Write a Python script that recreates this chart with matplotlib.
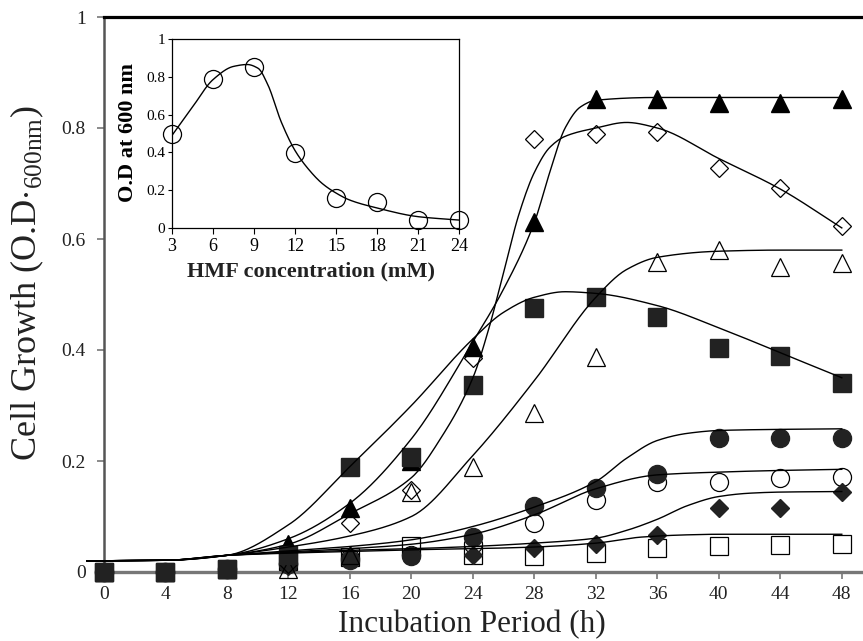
import numpy as np
import matplotlib
matplotlib.use("Agg")
import matplotlib.pyplot as plt

plt.rcParams['font.family'] = ['Liberation Serif', 'DejaVu Serif']
plt.rcParams['mathtext.fontset'] = 'custom'
plt.rcParams['mathtext.rm'] = 'Liberation Serif'

# ---- main chart data (incubation time, h) ----
hours = [0, 4, 8, 12, 16, 20, 24, 28, 32, 36, 40, 44, 48]
tri_f = [0, 0, 0.005, 0.05, 0.115, 0.20, 0.405, 0.63, 0.853, 0.853, 0.845, 0.845, 0.853]
dia_o = [0, 0, 0.005, 0.015, 0.088, 0.148, 0.385, 0.78, 0.79, 0.793, 0.728, 0.692, 0.623]
tri_o = [0, 0, 0.005, 0.005, 0.03, 0.145, 0.19, 0.286, 0.388, 0.559, 0.58, 0.55, 0.556]
sq_f = [0, 0, 0.005, 0.03, 0.19, 0.208, 0.337, 0.476, 0.496, 0.459, 0.404, 0.39, 0.34]
circ_f = [0, 0, 0.005, 0.015, 0.022, 0.028, 0.063, 0.119, 0.151, 0.177, 0.241, 0.241, 0.241]
circ_o = [0, 0, 0.005, 0.015, 0.025, 0.03, 0.05, 0.088, 0.13, 0.163, 0.163, 0.169, 0.172]
dia_f = [0, 0, 0.005, 0.01, 0.025, 0.03, 0.031, 0.043, 0.05, 0.067, 0.115, 0.115, 0.145]
sq_o = [0, 0, 0.005, 0.02, 0.027, 0.047, 0.031, 0.028, 0.034, 0.043, 0.047, 0.048, 0.05]

# trend curves (knots)
fit_sq_x = [-1.1, 4, 8, 12, 16, 20, 24, 26, 28, 30, 32, 36, 40, 44, 48]
fit_sq_y = [0.02, 0.021, 0.03, 0.085, 0.19, 0.30, 0.42, 0.468, 0.495, 0.505, 0.502, 0.48, 0.44, 0.395, 0.35]
fit_tri_x = [-1.1, 4, 8, 12, 16, 20, 24, 26, 28, 29, 30, 31, 32, 36, 40, 48]
fit_tri_y = [0.02, 0.021, 0.03, 0.06, 0.124, 0.24, 0.415, 0.51, 0.63, 0.72, 0.80, 0.838, 0.85, 0.855, 0.855, 0.855]
fit_dia_x = [-1.1, 4, 8, 12, 16, 20, 22, 24, 25, 26, 27, 28, 29, 30, 32, 34, 36, 40, 44, 48]
fit_dia_y = [0.02, 0.021, 0.03, 0.05, 0.105, 0.17, 0.245, 0.35, 0.435, 0.54, 0.645, 0.72, 0.765, 0.785, 0.80, 0.81, 0.80, 0.745, 0.69, 0.62]
fit_otri_x = [-1.1, 4, 8, 12, 16, 20, 24, 28, 32, 34, 36, 40, 44, 48]
fit_otri_y = [0.02, 0.021, 0.03, 0.045, 0.065, 0.10, 0.21, 0.345, 0.495, 0.545, 0.567, 0.578, 0.58, 0.58]
fit_fc_x = [-1.1, 4, 8, 12, 16, 20, 24, 28, 32, 34, 36, 38, 40, 44, 48]
fit_fc_y = [0.02, 0.021, 0.03, 0.038, 0.046, 0.058, 0.082, 0.117, 0.163, 0.205, 0.237, 0.25, 0.255, 0.257, 0.258]
fit_oc_x = [-1.1, 4, 8, 12, 16, 20, 24, 28, 32, 36, 40, 44, 48]
fit_oc_y = [0.02, 0.021, 0.03, 0.036, 0.042, 0.05, 0.068, 0.103, 0.15, 0.175, 0.18, 0.183, 0.185]
fit_fd_x = [-1.1, 4, 8, 12, 16, 20, 24, 28, 32, 34, 36, 38, 40, 42, 44, 48]
fit_fd_y = [0.02, 0.021, 0.03, 0.035, 0.039, 0.042, 0.046, 0.052, 0.061, 0.075, 0.095, 0.12, 0.136, 0.142, 0.144, 0.145]
fit_os_x = [-1.1, 4, 8, 12, 16, 20, 24, 28, 32, 35, 38, 40, 44, 48]
fit_os_y = [0.02, 0.021, 0.03, 0.034, 0.037, 0.04, 0.042, 0.045, 0.052, 0.063, 0.067, 0.068, 0.068, 0.068]

# ---- inset data (HMF concentration) ----
hmf = [3, 6, 9, 12, 15, 18, 21, 24]
hmf_od = [0.50, 0.788, 0.853, 0.395, 0.157, 0.139, 0.042, 0.042]
fit_hmf_x = [3, 4.5, 6, 7.5, 8.5, 9.3, 10, 11, 12, 13, 14, 15, 16, 18, 21, 24]
fit_hmf_y = [0.49, 0.64, 0.785, 0.855, 0.865, 0.845, 0.76, 0.56, 0.41, 0.31, 0.235, 0.185, 0.148, 0.106, 0.06, 0.042]


def smooth(xk, yk, n=400):
    # monotone cubic through the knots, like a smoothed excel line
    xk = np.asarray(xk, float)
    yk = np.asarray(yk, float)
    h = np.diff(xk)
    d = np.diff(yk) / h
    m = np.zeros_like(yk)
    m[0], m[-1] = d[0], d[-1]
    for i in range(1, len(xk) - 1):
        if d[i - 1] * d[i] > 0:
            w1 = 2 * h[i] + h[i - 1]
            w2 = h[i] + 2 * h[i - 1]
            m[i] = (w1 + w2) / (w1 / d[i - 1] + w2 / d[i])
    xs = np.linspace(xk[0], xk[-1], n)
    idx = np.clip(np.searchsorted(xk, xs) - 1, 0, len(h) - 1)
    t = (xs - xk[idx]) / h[idx]
    ys = ((2 * t**3 - 3 * t**2 + 1) * yk[idx] + (t**3 - 2 * t**2 + t) * h[idx] * m[idx]
          + (-2 * t**3 + 3 * t**2) * yk[idx + 1] + (t**3 - t**2) * h[idx] * m[idx + 1])
    return xs, ys


fig = plt.figure(figsize=(8.63, 6.41), dpi=100)
ax = fig.add_axes([104 / 863, 1 - 572 / 641, 759 / 863, 555 / 641])

mk = dict(linestyle='none', clip_on=False, zorder=3)
ax.plot(hours, sq_o, marker='s', ms=13, mfc='none', mec='black', mew=0.9, **mk)
ax.plot(hours, circ_o, marker='o', ms=13, mfc='none', mec='black', mew=0.9, **mk)
ax.plot(hours, dia_f, marker='D', ms=9.3, mfc='#222222', mec='#222222', **mk)
ax.plot(hours, circ_f, marker='o', ms=13, mfc='#222222', mec='#222222', **mk)
ax.plot(hours, tri_o, marker='^', ms=13, mfc='none', mec='black', mew=0.9, **mk)
ax.plot(hours, dia_o, marker='D', ms=9.3, mfc='none', mec='black', mew=0.9, **mk)
ax.plot(hours, tri_f, marker='^', ms=13, mfc='black', mec='black', **mk)
ax.plot(hours, sq_f, marker='s', ms=13, mfc='#222222', mec='#222222', **mk)

for cx, cy in [(fit_sq_x, fit_sq_y), (fit_tri_x, fit_tri_y), (fit_dia_x, fit_dia_y),
               (fit_otri_x, fit_otri_y), (fit_fc_x, fit_fc_y), (fit_oc_x, fit_oc_y),
               (fit_fd_x, fit_fd_y), (fit_os_x, fit_os_y)]:
    sx, sy = smooth(cx, cy)
    ax.plot(sx, sy, color='black', lw=1.0, clip_on=False, zorder=4)

ax.set_xlim(0, 49.38)
ax.set_ylim(0, 1)
ax.set_xticks(hours)
ax.set_yticks([0, 0.2, 0.4, 0.6, 0.8, 1])
ax.set_yticklabels(['0', '0.2', '0.4', '0.6', '0.8', '1'])
ax.tick_params(axis='both', labelsize=14, colors='#777777', labelcolor='#222222',
               length=5, width=1.2)
ax.tick_params(axis='y', pad=8)
ax.tick_params(axis='x', pad=5)
ax.spines['right'].set_visible(False)
ax.spines['top'].set_color('black')
ax.spines['top'].set_linewidth(2.3)
ax.spines['left'].set_color('#555555')
ax.spines['left'].set_linewidth(1.8)
ax.spines['bottom'].set_color('#777777')
ax.spines['bottom'].set_linewidth(2.4)

fig.text(472 / 863, 1 - 625 / 641, 'Incubation Period (h)', fontsize=22.5,
         ha='center', va='center', color='#222222')
fig.text(27 / 863, 1 - 283 / 641, r'Cell Growth (O.D$\cdot_{\mathrm{600nm}}$)', fontsize=26,
         rotation=90, ha='center', va='center', color='#222222')

# ---- inset ----
ins = fig.add_axes([172 / 863, 1 - 228 / 641, 287 / 863, 189 / 641])
sx, sy = smooth(fit_hmf_x, fit_hmf_y)
ins.plot(sx, sy, color='black', lw=1.0, zorder=2)
ins.plot(hmf, hmf_od, linestyle='none', marker='o', ms=13, mfc='none', mec='black',
         mew=0.9, clip_on=False, zorder=3)
ins.set_xlim(3, 24)
ins.set_ylim(0, 1)
ins.set_xticks(hmf)
ins.set_yticks([0, 0.2, 0.4, 0.6, 0.8, 1])
ins.set_yticklabels(['0', '0.2', '0.4', '0.6', '0.8', '1'])
ins.tick_params(axis='x', labelsize=13, length=4, width=0.8, pad=3)
ins.tick_params(axis='y', labelsize=11, length=3, width=0.8, pad=2)
for s in ins.spines.values():
    s.set_linewidth(0.9)
fig.text(311 / 863, 1 - 271 / 641, 'HMF concentration (mM)', fontsize=16,
         fontweight='bold', ha='center', va='center', color='#222222')
fig.text(128 / 863, 1 - 132 / 641, 'O.D at 600 nm', fontsize=16, fontweight='bold',
         rotation=90, ha='center', va='center', color='black')

fig.savefig('out.png', dpi=100)
